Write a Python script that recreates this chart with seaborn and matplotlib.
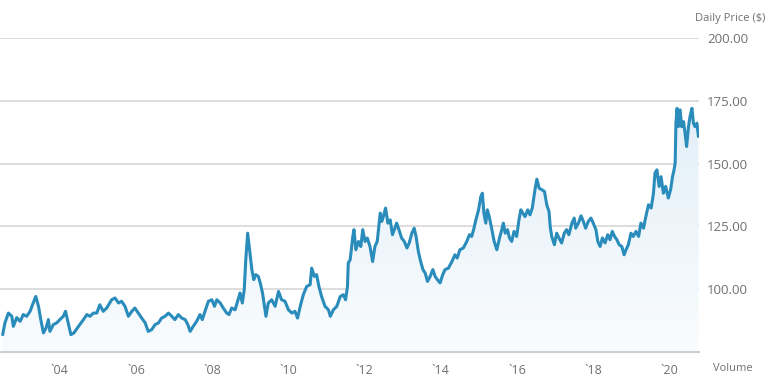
import numpy as np
import pandas as pd
import matplotlib
matplotlib.use("Agg")
import matplotlib.pyplot as plt
from matplotlib.colors import LinearSegmentedColormap
import seaborn as sns

# decimal year, daily close
years = [
    2002.50, 2002.56, 2002.65, 2002.74, 2002.78, 2002.87, 2002.96, 2003.04, 2003.13, 2003.22,
    2003.30, 2003.37, 2003.44, 2003.50, 2003.57, 2003.64, 2003.70, 2003.74, 2003.83, 2003.92,
    2004.00, 2004.09, 2004.15, 2004.22, 2004.29, 2004.37, 2004.49, 2004.62, 2004.71, 2004.79,
    2004.88, 2004.97, 2005.05, 2005.14, 2005.23, 2005.36, 2005.45, 2005.54, 2005.62, 2005.71,
    2005.80, 2005.89, 2005.97, 2006.06, 2006.15, 2006.24, 2006.32, 2006.41, 2006.50, 2006.59,
    2006.67, 2006.76, 2006.85, 2006.94, 2007.02, 2007.11, 2007.20, 2007.29, 2007.36, 2007.42,
    2007.50, 2007.59, 2007.68, 2007.74, 2007.81, 2007.90, 2007.99, 2008.06, 2008.12, 2008.21,
    2008.29, 2008.38, 2008.44, 2008.51, 2008.60, 2008.69, 2008.73, 2008.79, 2008.84, 2008.88,
    2008.93, 2008.97, 2009.00, 2009.04, 2009.09, 2009.14, 2009.21, 2009.26, 2009.32, 2009.37,
    2009.41, 2009.47, 2009.56, 2009.65, 2009.74, 2009.82, 2009.91, 2010.00, 2010.09, 2010.17,
    2010.24, 2010.31, 2010.39, 2010.48, 2010.57, 2010.61, 2010.68, 2010.74, 2010.80, 2010.87,
    2010.96, 2011.05, 2011.10, 2011.18, 2011.27, 2011.36, 2011.44, 2011.50, 2011.55, 2011.57,
    2011.62, 2011.69, 2011.72, 2011.77, 2011.84, 2011.90, 2011.95, 2012.01, 2012.07, 2012.14,
    2012.21, 2012.27, 2012.33, 2012.41, 2012.45, 2012.49, 2012.55, 2012.61, 2012.67, 2012.73,
    2012.78, 2012.84, 2012.90, 2012.97, 2013.04, 2013.11, 2013.17, 2013.24, 2013.30, 2013.35,
    2013.41, 2013.47, 2013.53, 2013.59, 2013.65, 2013.72, 2013.79, 2013.85, 2013.91, 2013.98,
    2014.05, 2014.11, 2014.20, 2014.29, 2014.37, 2014.43, 2014.50, 2014.59, 2014.68, 2014.75,
    2014.81, 2014.87, 2014.92, 2014.99, 2015.05, 2015.09, 2015.13, 2015.18, 2015.22, 2015.27,
    2015.34, 2015.40, 2015.47, 2015.54, 2015.60, 2015.64, 2015.69, 2015.75, 2015.80, 2015.86,
    2015.92, 2015.99, 2016.05, 2016.10, 2016.15, 2016.21, 2016.28, 2016.34, 2016.40, 2016.47,
    2016.52, 2016.58, 2016.65, 2016.72, 2016.78, 2016.84, 2016.87, 2016.91, 2016.98, 2017.04,
    2017.10, 2017.17, 2017.24, 2017.30, 2017.36, 2017.44, 2017.50, 2017.54, 2017.61, 2017.68,
    2017.74, 2017.80, 2017.87, 2017.94, 2018.00, 2018.07, 2018.12, 2018.18, 2018.24, 2018.31,
    2018.38, 2018.44, 2018.50, 2018.56, 2018.62, 2018.68, 2018.75, 2018.81, 2018.86, 2018.92,
    2018.99, 2019.05, 2019.12, 2019.19, 2019.25, 2019.32, 2019.38, 2019.45, 2019.52, 2019.58,
    2019.62, 2019.67, 2019.73, 2019.78, 2019.84, 2019.90, 2019.97, 2020.03, 2020.08, 2020.12,
    2020.15, 2020.17, 2020.20, 2020.23, 2020.28, 2020.32, 2020.37, 2020.41, 2020.45, 2020.50,
    2020.54, 2020.59, 2020.63, 2020.67, 2020.72, 2020.76,
]
prices = [
    81.9, 86.6, 90.5, 89.2, 85.2, 88.7, 87.2, 89.9, 89.2, 91.2,
    94.5, 97.1, 93.2, 87.9, 82.6, 84.6, 87.9, 83.2, 85.9, 86.6,
    87.9, 89.2, 91.2, 86.6, 81.9, 82.6, 85.2, 87.9, 89.9, 89.2,
    90.5, 90.5, 93.8, 91.2, 92.5, 95.8, 96.5, 94.5, 95.2, 93.2,
    89.2, 91.2, 92.5, 90.5, 88.5, 86.6, 83.2, 83.9, 85.9, 86.6,
    88.5, 89.2, 90.5, 89.2, 87.9, 89.9, 88.5, 87.9, 85.9, 83.2,
    85.2, 87.2, 89.9, 87.9, 91.2, 95.2, 95.8, 93.2, 95.8, 94.5,
    92.5, 90.5, 89.9, 92.5, 91.8, 96.5, 98.5, 94.5, 99.8, 111.7,
    122.3, 117.0, 113.0, 107.8, 103.8, 105.8, 105.1, 102.5, 98.5, 93.2,
    89.2, 94.5, 95.8, 93.2, 99.1, 95.8, 95.2, 91.8, 90.5, 91.2,
    88.5, 93.2, 97.8, 101.1, 101.8, 108.4, 105.1, 105.8, 101.1, 97.1,
    93.2, 91.8, 89.2, 91.8, 93.2, 97.1, 97.8, 95.8, 101.1, 110.4,
    111.7, 121.0, 123.7, 115.7, 119.0, 117.0, 123.7, 119.0, 120.4, 117.0,
    111.0, 117.0, 119.0, 130.3, 127.0, 128.9, 132.3, 126.3, 127.6, 121.7,
    123.7, 126.3, 123.7, 120.4, 119.0, 116.4, 118.4, 122.3, 124.3, 121.0,
    115.0, 111.0, 107.8, 106.4, 103.1, 105.1, 107.8, 105.1, 103.8, 102.5,
    105.8, 107.8, 108.4, 111.0, 113.7, 112.4, 115.7, 116.4, 119.0, 121.7,
    121.0, 124.3, 127.6, 131.6, 136.9, 138.2, 130.3, 126.3, 131.6, 128.9,
    123.7, 119.0, 115.7, 120.4, 123.7, 126.3, 122.3, 123.7, 120.4, 119.0,
    123.0, 121.0, 127.6, 131.6, 130.3, 128.9, 131.6, 129.6, 132.3, 139.6,
    143.8, 140.2, 139.6, 138.9, 133.6, 130.9, 125.0, 121.0, 117.7, 122.3,
    120.4, 118.4, 122.3, 123.7, 121.7, 126.3, 128.3, 124.3, 126.3, 129.2,
    127.0, 124.3, 127.0, 128.3, 126.3, 123.7, 119.0, 117.0, 120.4, 118.4,
    121.7, 119.7, 123.0, 121.0, 119.7, 117.7, 117.0, 113.7, 115.7, 117.7,
    122.3, 121.0, 123.0, 121.0, 126.3, 124.3, 128.9, 133.6, 132.3, 138.2,
    146.2, 147.5, 140.9, 144.8, 138.2, 140.9, 136.3, 139.6, 144.8, 147.5,
    150.2, 166.1, 172.0, 164.7, 171.4, 164.7, 166.7, 162.1, 156.8, 164.7,
    168.7, 172.0, 166.1, 164.7, 166.1, 160.8,
]
tick_years = [2004, 2006, 2008, 2010, 2012, 2014, 2016, 2018, 2020]
tick_labels = ["`04", "`06", "`08", "`10", "`12", "`14", "`16", "`18", "`20"]
price_ticks = [100, 125, 150, 175, 200]

df = pd.DataFrame({"year": years, "price": prices})

sns.set_style("white")
plt.rcParams['font.family'] = ['Open Sans', 'DejaVu Sans']

line_color = "#2a8cbb"
label_color = "#707070"

fig = plt.figure(figsize=(7.73, 3.80), dpi=100)
ax = fig.add_axes([0.0, 0.0737, 0.904, 0.8263])

xmin, xmax = 2002.43, 2020.77
ymin, ymax = 75, 200

# gradient area under the line
fill = ax.fill_between(df["year"], df["price"], ymin, color="none", lw=0)
cmap = LinearSegmentedColormap.from_list("area", ["#f9fcfe", "#e3eff8"])
grad = np.linspace(0, 1, 256).reshape(-1, 1)
img = ax.imshow(grad, cmap=cmap, aspect="auto", origin="lower",
                extent=(xmin, xmax, ymin, max(prices)), zorder=1)
img.set_clip_path(fill.get_paths()[0], transform=ax.transData)

sns.lineplot(data=df, x="year", y="price", ax=ax, color=line_color, lw=2.2, zorder=3)

ax.set_xlim(xmin, xmax)
ax.set_ylim(ymin, ymax)

for p in price_ticks:
    ax.axhline(p, color="#d3d3d3", lw=1.1, zorder=0)

ax.yaxis.tick_right()
ax.set_yticks(price_ticks)
ax.set_yticklabels([f"{p:.2f}" for p in price_ticks])
ax.set_xticks(tick_years)
ax.set_xticklabels(tick_labels)
ax.tick_params(axis="y", length=0, pad=6, labelsize=9.5, labelcolor=label_color)
ax.tick_params(axis="x", length=0, pad=9, labelsize=9, labelcolor=label_color)
ax.set(xlabel=None, ylabel=None)

for s in ["top", "left", "right"]:
    ax.spines[s].set_visible(False)
ax.spines["bottom"].set_color("#cfcfcf")
ax.spines["bottom"].set_linewidth(1.5)

fig.text(0.99, 0.95, "Daily Price ($)", ha="right", va="center", fontsize=8, color=label_color)
fig.text(0.973, 0.029, "Volume", ha="right", va="center", fontsize=8, color=label_color)

fig.savefig("out.png", dpi=100)
